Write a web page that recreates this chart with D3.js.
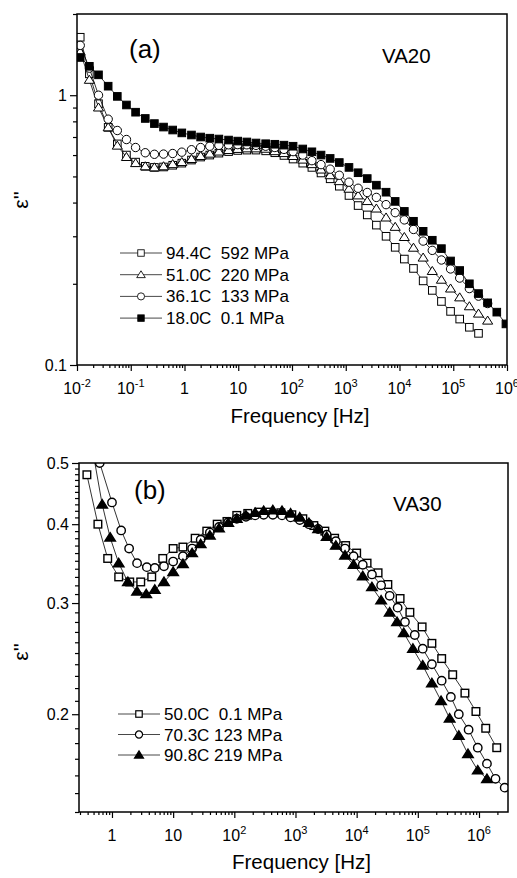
<!DOCTYPE html>
<html>
<head>
<meta charset="utf-8">
<script src="https://cdn.jsdelivr.net/npm/d3@7"></script>
<style>
  body { margin: 0; background: #fff; }
  svg { display: block; font-family: "Liberation Sans", Arial, sans-serif; }
</style>
</head>
<body>
<div id="chart"></div>
<script>
// ---- panel (a) VA20 : log10 of frequency, shared by all four runs
const logFreqA = [-1.94, -1.77, -1.60, -1.42, -1.25, -1.08, -0.91, -0.73, -0.56, -0.39,
  -0.22, -0.05, 0.13, 0.30, 0.47, 0.64, 0.82, 0.99, 1.16, 1.33,
  1.51, 1.68, 1.85, 2.02, 2.20, 2.37, 2.54, 2.71, 2.88, 3.06,
  3.23, 3.40, 3.57, 3.75, 3.92, 4.09, 4.26, 4.44, 4.61, 4.78,
  4.95, 5.12, 5.30, 5.47, 5.64, 5.81, 5.98];

const epsA_944 = [1.64, 1.2, 0.93, 0.76, 0.66, 0.6, 0.565, 0.545, 0.54, 0.542,
  0.55, 0.56, 0.575, 0.59, 0.6, 0.61, 0.618, 0.624, 0.626, 0.626,
  0.622, 0.612, 0.598, 0.58, 0.56, 0.54, 0.515, 0.49, 0.46, 0.425,
  0.39, 0.36, 0.33, 0.30, 0.273, 0.247, 0.228, 0.205, 0.189, 0.172,
  0.158, 0.148, 0.138, 0.131];
const epsA_510 = [1.45, 1.14, 0.9, 0.76, 0.65, 0.59, 0.56, 0.545, 0.54, 0.545,
  0.555, 0.565, 0.58, 0.595, 0.607, 0.618, 0.626, 0.632, 0.635, 0.635,
  0.633, 0.62, 0.61, 0.595, 0.577, 0.555, 0.53, 0.505, 0.48, 0.45,
  0.425, 0.405, 0.38, 0.352, 0.325, 0.298, 0.272, 0.25, 0.223, 0.207,
  0.192, 0.178, 0.165, 0.155, 0.146];
const epsA_361 = [1.53, 1.26, 1.0, 0.815, 0.74, 0.685, 0.64, 0.612, 0.604, 0.605,
  0.608, 0.615, 0.628, 0.64, 0.647, 0.652, 0.655, 0.656, 0.655, 0.652,
  0.647, 0.64, 0.63, 0.618, 0.60, 0.572, 0.553, 0.532, 0.505, 0.476,
  0.452, 0.436, 0.418, 0.393, 0.367, 0.345, 0.318, 0.288, 0.266, 0.245,
  0.227, 0.21, 0.192, 0.18, 0.169];
const epsA_180 = [1.38, 1.28, 1.19, 1.08, 0.99, 0.92, 0.865, 0.82, 0.785, 0.762,
  0.743, 0.725, 0.712, 0.70, 0.693, 0.688, 0.682, 0.676, 0.671, 0.665,
  0.661, 0.658, 0.653, 0.647, 0.632, 0.617, 0.60, 0.583, 0.563, 0.54,
  0.516, 0.491, 0.464, 0.437, 0.404, 0.371, 0.341, 0.313, 0.29, 0.27,
  0.243, 0.224, 0.20, 0.184, 0.170, 0.157, 0.142];

const legendA = ["94.4C  592 MPa", "51.0C  220 MPa", "36.1C  133 MPa", "18.0C  0.1 MPa"];

// ---- panel (b) VA30
const logFreqB_500 = [-0.41, -0.23, -0.07, 0.11, 0.29, 0.47, 0.65, 0.83, 1.0, 1.16,
  1.36, 1.55, 1.72, 1.88, 2.04, 2.22, 2.40, 2.58, 2.76, 2.94,
  3.12, 3.30, 3.48, 3.64, 3.82, 4.0, 4.17, 4.35, 4.51, 4.71,
  4.87, 5.07, 5.23, 5.39, 5.57, 5.77, 5.95, 6.11, 6.29];
const epsB_500 = [0.479, 0.40, 0.353, 0.33, 0.324, 0.324, 0.33, 0.353, 0.366, 0.368,
  0.38, 0.39, 0.40, 0.404, 0.413, 0.416, 0.418, 0.418, 0.417, 0.414,
  0.408, 0.398, 0.39, 0.38, 0.37, 0.36, 0.347, 0.335, 0.321, 0.305,
  0.29, 0.275, 0.259, 0.245, 0.231, 0.216, 0.202, 0.19, 0.177];

const logFreqB_703 = [-0.34, -0.20, 0.0, 0.15, 0.28, 0.41, 0.57, 0.70, 0.85, 1.0,
  1.16, 1.31, 1.45, 1.60, 1.75, 1.90, 2.04, 2.19, 2.34, 2.48,
  2.63, 2.78, 2.92, 3.07, 3.22, 3.37, 3.51, 3.66, 3.81, 3.95,
  4.10, 4.25, 4.40, 4.54, 4.67, 4.79, 4.95, 5.08, 5.23, 5.39,
  5.54, 5.67, 5.83, 5.98, 6.13, 6.27, 6.42];
const epsB_703 = [0.58, 0.50, 0.433, 0.391, 0.366, 0.347, 0.342, 0.341, 0.343, 0.349,
  0.356, 0.366, 0.378, 0.388, 0.396, 0.403, 0.408, 0.411, 0.413, 0.414,
  0.414, 0.413, 0.41, 0.406, 0.40, 0.393, 0.385, 0.376, 0.366, 0.356,
  0.345, 0.333, 0.32, 0.308, 0.295, 0.28, 0.267, 0.254, 0.240, 0.226,
  0.213, 0.2, 0.189, 0.177, 0.167, 0.158, 0.153];

const logFreqB_908 = [-0.31, -0.16, -0.03, 0.11, 0.26, 0.41, 0.56, 0.70, 0.85, 1.0,
  1.16, 1.31, 1.45, 1.60, 1.75, 1.90, 2.04, 2.19, 2.34, 2.48,
  2.63, 2.78, 2.92, 3.07, 3.22, 3.37, 3.51, 3.66, 3.81, 3.95,
  4.10, 4.25, 4.40, 4.54, 4.66, 4.77, 4.92, 5.08, 5.23, 5.38,
  5.52, 5.67, 5.82, 5.98, 6.13];
const epsB_908 = [0.52, 0.43, 0.381, 0.347, 0.324, 0.313, 0.31, 0.315, 0.324, 0.336,
  0.346, 0.36, 0.372, 0.384, 0.394, 0.402, 0.408, 0.413, 0.417, 0.42,
  0.421, 0.42, 0.416, 0.41, 0.402, 0.393, 0.382, 0.37, 0.357, 0.345,
  0.331, 0.318, 0.303, 0.29, 0.28, 0.269, 0.254, 0.239, 0.224, 0.21,
  0.197, 0.185, 0.173, 0.163, 0.158];

const legendB = ["50.0C  0.1 MPa", "70.3C 123 MPa", "90.8C 219 MPa"];

const xTicksA = [1e-2, 1e-1, 1, 10, 1e2, 1e3, 1e4, 1e5, 1e6];
const xTicksB = [1, 10, 1e2, 1e3, 1e4, 1e5, 1e6];
const yTicksA = [0.1, 1];
const yTicksB = [0.2, 0.3, 0.4, 0.5];

const width = 517;
const height = 878;

const svg = d3.select("#chart").append("svg")
  .attr("width", width)
  .attr("height", height);

const toPts = (logs, vals) => vals.map((e, i) => ({ f: Math.pow(10, logs[i]), e }));

// superscript labels like 10^3
function tickLabel(sel, v) {
  const p = Math.round(Math.log10(v));
  if (p === 0) { sel.text("1"); return; }
  if (p === 1) { sel.text("10"); return; }
  sel.append("tspan").text("10");
  sel.append("tspan").attr("dy", -7).attr("font-size", 11).text(p);
}

function marker(g, type, x, y, sw) {
  sw = sw || 1;
  if (type === "circle") {
    g.append("circle").attr("cx", x).attr("cy", y).attr("r", 4.2)
      .attr("fill", "#fff").attr("stroke", "#000").attr("stroke-width", sw);
  } else if (type === "square" || type === "fsquare") {
    g.append("rect").attr("x", x - 3.8).attr("y", y - 3.8).attr("width", 7.6).attr("height", 7.6)
      .attr("fill", type === "fsquare" ? "#000" : "#fff").attr("stroke", "#000").attr("stroke-width", sw);
  } else {
    const s = type === "ftriangle" ? 4.8 : 4.6;
    g.append("path")
      .attr("d", `M${x},${y - s}L${x + s * 1.1},${y + s * 0.75}L${x - s * 1.1},${y + s * 0.75}Z`)
      .attr("fill", type === "ftriangle" ? "#000" : "#fff").attr("stroke", "#000").attr("stroke-width", sw);
  }
}

function drawPanel(cfg) {
  const { left, right, top, bottom, xDomain, yDomain } = cfg;
  const x = d3.scaleLog().domain(xDomain).range([left, right]);
  const y = d3.scaleLog().domain(yDomain).range([bottom, top]);
  const g = svg.append("g");

  const clipId = "clip-" + cfg.name;
  svg.append("clipPath").attr("id", clipId)
    .append("rect").attr("x", left).attr("y", top).attr("width", right - left).attr("height", bottom - top);

  // minor x ticks
  const xMinor = [];
  for (let p = Math.floor(Math.log10(xDomain[0])); p <= Math.ceil(Math.log10(xDomain[1])); p++) {
    for (let m = 2; m <= 9; m++) {
      const v = m * Math.pow(10, p);
      if (v >= xDomain[0] && v <= xDomain[1]) xMinor.push(v);
    }
  }

  g.append("g").attr("transform", `translate(0,${bottom})`)
    .call(d3.axisBottom(x).tickValues(xMinor).tickSize(3).tickFormat(""))
    .call(a => a.select(".domain").remove());
  g.append("g").attr("transform", `translate(0,${bottom})`)
    .call(d3.axisBottom(x).tickValues(cfg.xTicks).tickSize(6).tickFormat(""))
    .call(a => a.select(".domain").remove());
  g.append("g").attr("transform", `translate(${left},0)`)
    .call(d3.axisLeft(y).tickValues(cfg.yMinor).tickSize(4).tickFormat(""))
    .call(a => a.select(".domain").remove());
  g.append("g").attr("transform", `translate(${left},0)`)
    .call(d3.axisLeft(y).tickValues(cfg.yTicks).tickSize(7).tickFormat(""))
    .call(a => a.select(".domain").remove());
  g.selectAll(".tick line").attr("stroke", "#000").attr("stroke-width", 1.2);

  // x tick labels (the last one of panel a runs past the edge, as in the original)
  cfg.xTicks.forEach(v => {
    const t = g.append("text").attr("x", x(v)).attr("y", bottom + 29)
      .attr("text-anchor", "middle").attr("font-size", 16);
    tickLabel(t, v);
  });
  // y tick labels
  cfg.yTicks.forEach(v => {
    g.append("text").attr("x", left - 10).attr("y", y(v) + 6)
      .attr("text-anchor", "end").attr("font-size", 16).text(v);
  });

  g.append("text").attr("x", (left + right) / 2 + 8).attr("y", cfg.xTitleY)
    .attr("text-anchor", "middle").attr("font-size", 20.5).text("Frequency [Hz]");
  g.append("text").attr("transform", `translate(28,${cfg.yTitleY}) rotate(-90)`)
    .attr("text-anchor", "middle").attr("font-size", 21).text("\u03b5''");

  // series
  const line = d3.line().x(d => x(d.f)).y(d => y(d.e));
  const plot = g.append("g").attr("clip-path", `url(#${clipId})`);
  cfg.series.forEach(s => {
    const sg = plot.append("g");
    sg.append("path").datum(s.pts).attr("d", line)
      .attr("fill", "none").attr("stroke", "#000").attr("stroke-width", 0.8);
    s.pts.forEach(d => marker(sg, s.type, x(d.f), y(d.e), cfg.markerStroke));
  });

  // frame
  g.append("rect").attr("x", left).attr("y", top).attr("width", right - left).attr("height", bottom - top)
    .attr("fill", "none").attr("stroke", "#000").attr("stroke-width", 1.5);

  // legend
  cfg.legend.forEach((lab, i) => {
    const ly = cfg.legendY + i * cfg.legendStep;
    const lg = g.append("g");
    lg.append("line").attr("x1", cfg.legendX).attr("x2", cfg.legendX + 42).attr("y1", ly).attr("y2", ly)
      .attr("stroke", "#333").attr("stroke-width", 0.9);
    const mg = lg.append("g").attr("transform", `translate(${cfg.legendX + 21},${ly}) scale(0.85)`);
    marker(mg, cfg.series[cfg.legendOrder[i]].type, 0, 0, cfg.markerStroke);
    lg.append("text").attr("x", cfg.legendX + 46).attr("y", ly + 6)
      .attr("font-size", 17).attr("xml:space", "preserve").style("white-space", "pre").text(lab);
  });

  g.append("text").attr("x", cfg.tagX).attr("y", cfg.tagY).attr("font-size", 26).text(cfg.tag);
  g.append("text").attr("x", cfg.sampleX).attr("y", cfg.sampleY).attr("font-size", 20.5).text(cfg.sample);
}

const yMinorA = [0.2, 0.3, 0.4, 0.5, 0.6, 0.7, 0.8, 0.9, 2];
const yMinorB = d3.range(14, 50).map(v => v / 100).filter(v => !yTicksB.some(t => Math.abs(t - v) < 1e-9));

drawPanel({
  name: "a",
  left: 77, right: 507, top: 14, bottom: 365,
  xDomain: [0.01, 1e6], yDomain: [0.1, 2],
  xTicks: xTicksA, yTicks: yTicksA, yMinor: yMinorA,
  xTitleY: 423, yTitleY: 200, markerStroke: 1,
  series: [
    { type: "square", pts: toPts(logFreqA, epsA_944) },
    { type: "triangle", pts: toPts(logFreqA, epsA_510) },
    { type: "circle", pts: toPts(logFreqA, epsA_361) },
    { type: "fsquare", pts: toPts(logFreqA, epsA_180) }
  ],
  legend: legendA, legendOrder: [0, 1, 2, 3],
  legendX: 120, legendY: 253, legendStep: 21.7,
  tag: "(a)", tagX: 129, tagY: 58,
  sample: "VA20", sampleX: 382, sampleY: 63
});

drawPanel({
  name: "b",
  left: 79, right: 508, top: 463, bottom: 812,
  xDomain: [0.289, 2.98e6], yDomain: [0.14, 0.5],
  xTicks: xTicksB, yTicks: yTicksB, yMinor: yMinorB,
  xTitleY: 869, yTitleY: 652, markerStroke: 1.4,
  series: [
    { type: "square", pts: toPts(logFreqB_500, epsB_500) },
    { type: "circle", pts: toPts(logFreqB_703, epsB_703) },
    { type: "ftriangle", pts: toPts(logFreqB_908, epsB_908) }
  ],
  legend: legendB, legendOrder: [0, 1, 2],
  legendX: 118, legendY: 714, legendStep: 20.5,
  tag: "(b)", tagX: 134, tagY: 499,
  sample: "VA30", sampleX: 393, sampleY: 511
});
</script>
</body>
</html>
